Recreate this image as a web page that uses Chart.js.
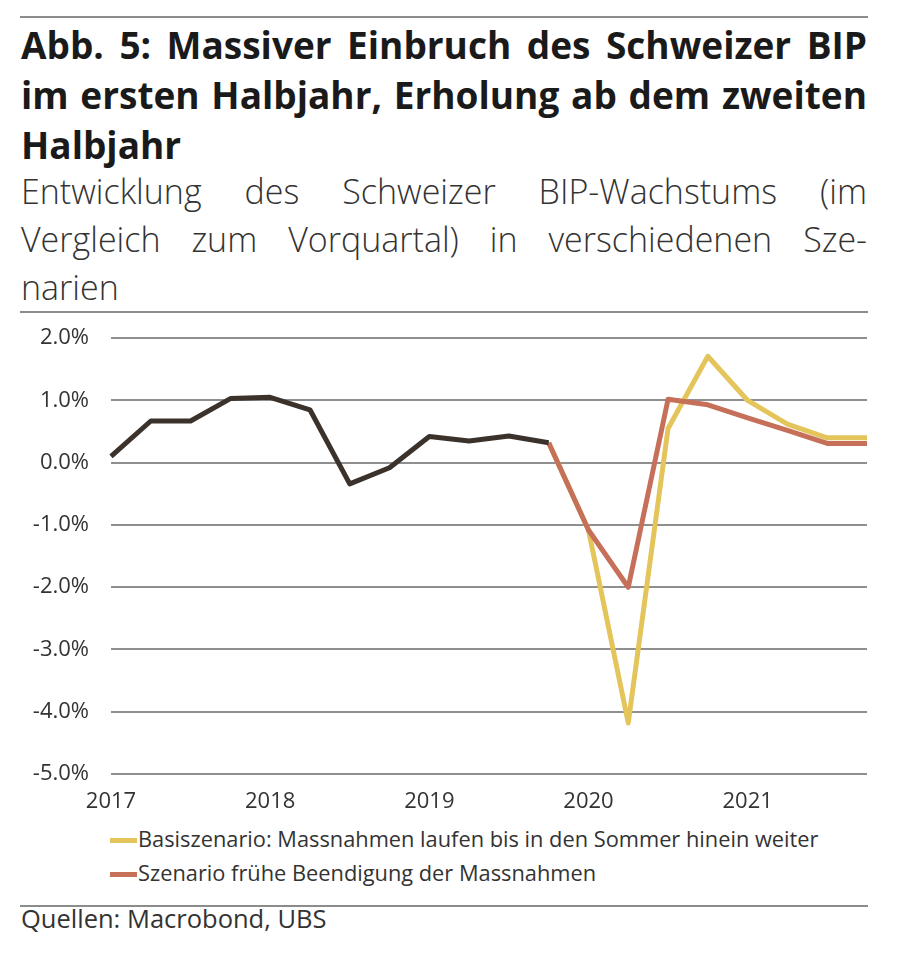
<!DOCTYPE html>
<html>
<head>
<meta charset="utf-8">
<script src="https://cdn.jsdelivr.net/npm/chart.js@4.4.1/dist/chart.umd.min.js"></script>
<style>
  body { margin: 0; background: #fff; font-family: "Open Sans", sans-serif; color: #222; }
  #page { position: relative; width: 900px; height: 954px; }
  .rule { position: absolute; left: 20px; width: 848px; height: 2px; background: #8c8c8c; }
  #title { position: absolute; left: 21px; top: 20px; width: 846px; font-size: 37px; font-weight: 700; line-height: 50px; color: #1a1a1a; }
  #subtitle { position: absolute; left: 21px; top: 167px; width: 846px; font-size: 34px; font-weight: 300; line-height: 48px; color: #333; }
  #title div, #subtitle div { white-space: nowrap; }
  #chart-box { position: absolute; left: 0; top: 303px; width: 900px; height: 517px; }
  #legend { position: absolute; left: 110px; top: 822px; font-size: 21.8px; color: #333; }
  .leg-item { height: 34px; line-height: 34px; white-space: nowrap; }
  .leg-swatch { display: inline-block; width: 27px; height: 5px; vertical-align: middle; margin-right: 1px; position: relative; top: -1px; }
  #source { position: absolute; left: 21px; top: 901px; font-size: 25.5px; line-height: 34px; color: #333; }
</style>
</head>
<body>
<div id="page">
  <div class="rule" style="top:16px"></div>
  <div id="title">
    <div class="fit">Abb. 5: Massiver Einbruch des Schweizer BIP</div>
    <div class="fit">im ersten Halbjahr, Erholung ab dem zweiten</div>
    <div>Halbjahr</div>
  </div>
  <div id="subtitle">
    <div class="fit">Entwicklung des Schweizer BIP-Wachstums (im</div>
    <div class="fit">Vergleich zum Vorquartal) in verschiedenen Sze-</div>
    <div>narien</div>
  </div>
  <div class="rule" style="top:311px"></div>
  <div id="chart-box"><canvas id="chart-canvas" width="900" height="517"></canvas></div>
  <div id="legend"></div>
  <div class="rule" style="top:905px"></div>
  <div id="source">Quellen: Macrobond, UBS</div>
</div>
<script>
(function(){

  // quarterly points 2017 Q1 .. 2021 Q4
  const quarters = [
    '2017 Q1', '2017 Q2', '2017 Q3', '2017 Q4',
    '2018 Q1', '2018 Q2', '2018 Q3', '2018 Q4',
    '2019 Q1', '2019 Q2', '2019 Q3', '2019 Q4',
    '2020 Q1', '2020 Q2', '2020 Q3', '2020 Q4',
    '2021 Q1', '2021 Q2', '2021 Q3', '2021 Q4'
  ];
  const yearTicks = ['2017', '2018', '2019', '2020', '2021'];

  const history = [0.1, 0.67, 0.67, 1.03, 1.05, 0.85, -0.34, -0.08, 0.42, 0.35, 0.43, 0.32,
    null, null, null, null, null, null, null, null];
  const baseScenario = [null, null, null, null, null, null, null, null, null, null, null, 0.32,
    -1.08, -4.18, 0.55, 1.71, 1.0, 0.62, 0.4, 0.4];
  const earlyEndScenario = [null, null, null, null, null, null, null, null, null, null, null, 0.32,
    -1.08, -2.0, 1.02, 0.93, 0.72, 0.52, 0.31, 0.31];

  const baseLabel = 'Basiszenario: Massnahmen laufen bis in den Sommer hinein weiter';
  const earlyLabel = 'Szenario frühe Beendigung der Massnahmen';

  const colors = { history: '#3b322c', base: '#e4c55c', early: '#c6705a' };

  // stretch / squeeze the full-width heading lines to the column width
  function fitLines() {
    document.querySelectorAll('.fit').forEach(line => {
      const target = line.parentElement.clientWidth;
      const span = document.createElement('span');
      span.textContent = line.textContent;
      line.textContent = '';
      line.appendChild(span);
      const natural = span.getBoundingClientRect().width;
      const diff = target - natural;
      if (diff >= 0) {
        const gaps = span.textContent.split(' ').length - 1;
        span.style.wordSpacing = (diff / gaps) + 'px';
      } else {
        span.style.letterSpacing = (diff / span.textContent.length) + 'px';
      }
    });
  }
  fitLines();

  const context = document.querySelector('#chart-canvas').getContext('2d');

  function lineSet(label, data, color, order, inLegend) {
    return {
      label: label,
      data: data,
      borderColor: color,
      backgroundColor: color,
      borderWidth: 5,
      borderJoinStyle: 'round',
      pointRadius: 0,
      tension: 0,
      spanGaps: false,
      order: order,
      inLegend: inLegend
    };
  }

  const config = {
    type: 'line',
    data: {
      labels: quarters,
      datasets: [
        lineSet(baseLabel, baseScenario, colors.base, 3, true),
        lineSet(earlyLabel, earlyEndScenario, colors.early, 2, true),
        lineSet('Historisch', history, colors.history, 1, false)
      ]
    },
    options: {
      responsive: false,
      animation: false,
      layout: { padding: { top: 0, right: 33, left: 0, bottom: 0 } },
      plugins: { legend: { display: false }, tooltip: { enabled: false } },
      scales: {
        x: {
          offset: false,
          grid: { display: false, drawTicks: false },
          border: { display: false },
          ticks: {
            autoSkip: false,
            maxRotation: 0,
            padding: 15,
            color: '#333',
            font: { family: 'Open Sans', size: 22 },
            callback: (value, index) => index % 4 === 0 ? yearTicks[index / 4] : ''
          },
          afterFit: (scale) => { scale.height = 46; }
        },
        y: {
          min: -5,
          max: 2,
          grid: { color: '#8f8f8f', lineWidth: 2, drawTicks: false },
          border: { display: false },
          ticks: {
            stepSize: 1,
            padding: 22,
            color: '#333',
            font: { family: 'Open Sans', size: 22 },
            callback: (value) => value.toFixed(1) + '%'
          },
          afterFit: (scale) => { scale.width = 111; }
        }
      }
    }
  };

  const chart = new Chart(context, config);

  // legend below the chart, only the scenarios
  const legend = document.querySelector('#legend');
  chart.data.datasets.filter(ds => ds.inLegend).forEach(ds => {
    const item = document.createElement('div');
    item.className = 'leg-item';
    item.innerHTML = `<span class="leg-swatch" style="background:${ds.borderColor}"></span>${ds.label}`;
    legend.appendChild(item);
  });

})();
</script>
</body>
</html>
